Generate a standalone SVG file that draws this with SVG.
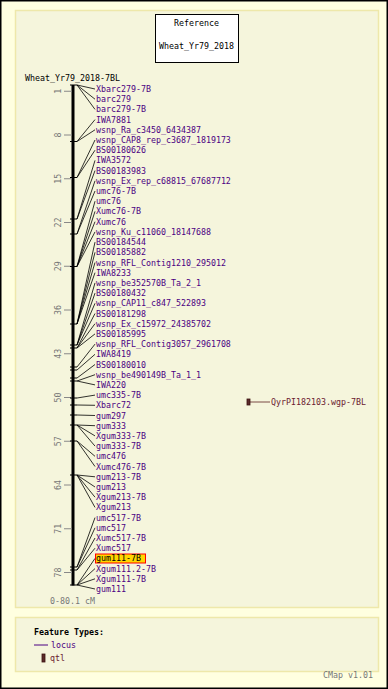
<svg xmlns="http://www.w3.org/2000/svg" width="388" height="689" viewBox="0 0 388 689">
<style>
text{font-family:"DejaVu Sans Mono","Liberation Mono",monospace;font-size:8.3px}
.lab{fill:#4b0082}
.blk{fill:#000}
.gry{fill:#777}
.qtl{fill:#6a2030}
.sc{stroke:#888;stroke-width:1}
.mk{stroke:#000;stroke-width:1}
.cn{stroke:#000;stroke-width:0.8;fill:none}
.panel{fill:#f5f5dc;stroke:#eee8aa;stroke-width:1.5}
</style>
<rect x="0.75" y="0.75" width="386.5" height="687.5" fill="#ffffe0" stroke="#000" stroke-width="1.5"/>
<rect class="panel" x="15.5" y="10.5" width="363" height="597"/>
<rect class="panel" x="15.5" y="617.5" width="363" height="54"/>
<g id="reference">
<rect x="155.5" y="14.5" width="83" height="48" fill="#fff" stroke="#000"/>
<text class="blk" x="196.5" y="26" text-anchor="middle">Reference</text>
<text class="blk" x="196.5" y="49" text-anchor="middle">Wheat_Yr79_2018</text>
</g>
<text class="blk" x="25" y="81">Wheat_Yr79_2018-7BL</text>
<g id="axis">
<line x1="73" y1="85" x2="73" y2="585.5" stroke="#000" stroke-width="3"/>
<g class="sc">
<line x1="64" y1="91.25" x2="72" y2="91.25"/><line x1="64" y1="135" x2="72" y2="135"/><line x1="64" y1="178.75" x2="72" y2="178.75"/><line x1="64" y1="222.5" x2="72" y2="222.5"/><line x1="64" y1="266.25" x2="72" y2="266.25"/><line x1="64" y1="310" x2="72" y2="310"/><line x1="64" y1="353.75" x2="72" y2="353.75"/><line x1="64" y1="397.5" x2="72" y2="397.5"/><line x1="64" y1="441.25" x2="72" y2="441.25"/><line x1="64" y1="485" x2="72" y2="485"/><line x1="64" y1="528.75" x2="72" y2="528.75"/><line x1="64" y1="572.5" x2="72" y2="572.5"/>
</g>
<g class="gry" text-anchor="middle">
<text transform="translate(58,91.25) rotate(-90)" y="3">1</text>
<text transform="translate(58,135) rotate(-90)" y="3">8</text>
<text transform="translate(58,178.75) rotate(-90)" y="3">15</text>
<text transform="translate(58,222.5) rotate(-90)" y="3">22</text>
<text transform="translate(58,266.25) rotate(-90)" y="3">29</text>
<text transform="translate(58,310) rotate(-90)" y="3">36</text>
<text transform="translate(58,353.75) rotate(-90)" y="3">43</text>
<text transform="translate(58,397.5) rotate(-90)" y="3">50</text>
<text transform="translate(58,441.25) rotate(-90)" y="3">57</text>
<text transform="translate(58,485) rotate(-90)" y="3">64</text>
<text transform="translate(58,528.75) rotate(-90)" y="3">71</text>
<text transform="translate(58,572.5) rotate(-90)" y="3">78</text>
</g>
<g class="mk">
<line x1="70" y1="85" x2="77" y2="85"/><line x1="70" y1="141.5" x2="77" y2="141.5"/><line x1="70" y1="177.5" x2="77" y2="177.5"/><line x1="70" y1="219" x2="77" y2="219"/><line x1="70" y1="234" x2="77" y2="234"/><line x1="70" y1="266.5" x2="77" y2="266.5"/><line x1="70" y1="324" x2="77" y2="324"/><line x1="70" y1="345" x2="77" y2="345"/><line x1="70" y1="348" x2="77" y2="348"/><line x1="70" y1="367" x2="77" y2="367"/><line x1="70" y1="370" x2="77" y2="370"/><line x1="70" y1="378" x2="77" y2="378"/><line x1="70" y1="381" x2="77" y2="381"/><line x1="70" y1="398" x2="77" y2="398"/><line x1="70" y1="405" x2="77" y2="405"/><line x1="70" y1="415" x2="77" y2="415"/><line x1="70" y1="425" x2="77" y2="425"/><line x1="70" y1="441" x2="77" y2="441"/><line x1="70" y1="475" x2="77" y2="475"/><line x1="70" y1="567" x2="77" y2="567"/><line x1="70" y1="570" x2="77" y2="570"/><line x1="70" y1="585" x2="77" y2="585"/>
</g>
<text class="gry" x="50" y="603.5">0-80.1 cM</text>
</g>
<g id="connectors" class="cn">
<line x1="77" y1="85" x2="95" y2="89"/><line x1="77" y1="85" x2="95" y2="99.2"/><line x1="77" y1="85" x2="95" y2="109.4"/>
<line x1="77" y1="141.5" x2="95" y2="119.6"/><line x1="77" y1="141.5" x2="95" y2="129.8"/>
<line x1="77" y1="177.5" x2="95" y2="140"/><line x1="77" y1="177.5" x2="95" y2="150.2"/>
<line x1="77" y1="219" x2="95" y2="160.4"/><line x1="77" y1="219" x2="95" y2="170.6"/>
<line x1="77" y1="234" x2="95" y2="180.8"/><line x1="77" y1="234" x2="95" y2="191"/>
<line x1="77" y1="266.5" x2="95" y2="201.2"/><line x1="77" y1="266.5" x2="95" y2="211.4"/><line x1="77" y1="266.5" x2="95" y2="221.7"/><line x1="77" y1="266.5" x2="95" y2="231.9"/>
<line x1="77" y1="324" x2="95" y2="242.1"/><line x1="77" y1="324" x2="95" y2="252.3"/><line x1="77" y1="324" x2="95" y2="262.5"/><line x1="77" y1="324" x2="95" y2="272.7"/>
<line x1="77" y1="345" x2="95" y2="282.9"/><line x1="77" y1="345" x2="95" y2="293.1"/><line x1="77" y1="345" x2="95" y2="303.3"/>
<line x1="77" y1="348" x2="95" y2="313.5"/><line x1="77" y1="348" x2="95" y2="323.7"/><line x1="77" y1="348" x2="95" y2="333.9"/>
<line x1="77" y1="367" x2="95" y2="344.1"/><line x1="77" y1="370" x2="95" y2="354.3"/><line x1="77" y1="378" x2="95" y2="364.5"/>
<line x1="77" y1="381" x2="95" y2="374.7"/><line x1="77" y1="381" x2="95" y2="384.9"/>
<line x1="77" y1="398" x2="95" y2="395.1"/><line x1="77" y1="405" x2="95" y2="405.3"/><line x1="77" y1="415" x2="95" y2="415.5"/>
<line x1="77" y1="425" x2="95" y2="425.7"/><line x1="77" y1="425" x2="95" y2="435.9"/><line x1="77" y1="425" x2="95" y2="446.1"/>
<line x1="77" y1="441" x2="95" y2="456.3"/><line x1="77" y1="441" x2="95" y2="466.5"/>
<line x1="77" y1="475" x2="95" y2="476.8"/><line x1="77" y1="475" x2="95" y2="487"/><line x1="77" y1="475" x2="95" y2="497.2"/><line x1="77" y1="475" x2="95" y2="507.4"/>
<line x1="77" y1="567" x2="95" y2="517.6"/><line x1="77" y1="567" x2="95" y2="527.8"/><line x1="77" y1="570" x2="95" y2="538"/><line x1="77" y1="570" x2="95" y2="548.2"/>
<line x1="77" y1="585" x2="95" y2="558.4"/><line x1="77" y1="585" x2="95" y2="568.6"/><line x1="77" y1="585" x2="95" y2="578.8"/><line x1="77" y1="585" x2="95" y2="589"/>
<line x1="250" y1="402" x2="270" y2="402" stroke="#5a2020"/>
</g>
<g class="lab">
<g id="m0"><text x="96" y="92">Xbarc279-7B</text></g>
<g id="m1"><text x="96" y="102.2">barc279</text></g>
<g id="m2"><text x="96" y="112.4">barc279-7B</text></g>
<g id="m3"><text x="96" y="122.6">IWA7881</text></g>
<g id="m4"><text x="96" y="132.8">wsnp_Ra_c3450_6434387</text></g>
<g id="m5"><text x="96" y="143">wsnp_CAP8_rep_c3687_1819173</text></g>
<g id="m6"><text x="96" y="153.2">BS00180626</text></g>
<g id="m7"><text x="96" y="163.4">IWA3572</text></g>
<g id="m8"><text x="96" y="173.6">BS00183983</text></g>
<g id="m9"><text x="96" y="183.8">wsnp_Ex_rep_c68815_67687712</text></g>
<g id="m10"><text x="96" y="194">umc76-7B</text></g>
<g id="m11"><text x="96" y="204.2">umc76</text></g>
<g id="m12"><text x="96" y="214.4">Xumc76-7B</text></g>
<g id="m13"><text x="96" y="224.7">Xumc76</text></g>
<g id="m14"><text x="96" y="234.9">wsnp_Ku_c11060_18147688</text></g>
<g id="m15"><text x="96" y="245.1">BS00184544</text></g>
<g id="m16"><text x="96" y="255.3">BS00185882</text></g>
<g id="m17"><text x="96" y="265.5">wsnp_RFL_Contig1210_295012</text></g>
<g id="m18"><text x="96" y="275.7">IWA8233</text></g>
<g id="m19"><text x="96" y="285.9">wsnp_be352570B_Ta_2_1</text></g>
<g id="m20"><text x="96" y="296.1">BS00180432</text></g>
<g id="m21"><text x="96" y="306.3">wsnp_CAP11_c847_522893</text></g>
<g id="m22"><text x="96" y="316.5">BS00181298</text></g>
<g id="m23"><text x="96" y="326.7">wsnp_Ex_c15972_24385702</text></g>
<g id="m24"><text x="96" y="336.9">BS00185995</text></g>
<g id="m25"><text x="96" y="347.1">wsnp_RFL_Contig3057_2961708</text></g>
<g id="m26"><text x="96" y="357.3">IWA8419</text></g>
<g id="m27"><text x="96" y="367.5">BS00180010</text></g>
<g id="m28"><text x="96" y="377.7">wsnp_be490149B_Ta_1_1</text></g>
<g id="m29"><text x="96" y="387.9">IWA220</text></g>
<g id="m30"><text x="96" y="398.1">umc335-7B</text></g>
<g id="m31"><text x="96" y="408.3">Xbarc72</text></g>
<g id="m32"><text x="96" y="418.5">gum297</text></g>
<g id="m33"><text x="96" y="428.7">gum333</text></g>
<g id="m34"><text x="96" y="438.9">Xgum333-7B</text></g>
<g id="m35"><text x="96" y="449.1">gum333-7B</text></g>
<g id="m36"><text x="96" y="459.3">umc476</text></g>
<g id="m37"><text x="96" y="469.5">Xumc476-7B</text></g>
<g id="m38"><text x="96" y="479.8">gum213-7B</text></g>
<g id="m39"><text x="96" y="490">gum213</text></g>
<g id="m40"><text x="96" y="500.2">Xgum213-7B</text></g>
<g id="m41"><text x="96" y="510.4">Xgum213</text></g>
<g id="m42"><text x="96" y="520.6">umc517-7B</text></g>
<g id="m43"><text x="96" y="530.8">umc517</text></g>
<g id="m44"><text x="96" y="541">Xumc517-7B</text></g>
<g id="m45"><text x="96" y="551.2">Xumc517</text></g>
<g id="m46"><rect x="95.5" y="554" width="50" height="9" fill="#ffd700" stroke="#f00"/><text x="96" y="561.4" class="blk">gum111-7B</text></g>
<g id="m47"><text x="96" y="571.6">Xgum111.2-7B</text></g>
<g id="m48"><text x="96" y="581.8">Xgum111-7B</text></g>
<g id="m49"><text x="96" y="592">gum111</text></g>
</g>
<g id="qtl1">
<rect x="247" y="399" width="3" height="6" fill="#5a2a2a" stroke="#3a1010" stroke-width="0.8"/>
<text class="qtl" x="271" y="405">QyrPI182103.wgp-7BL</text>
</g>
<g id="legend">
<text class="blk" x="34" y="635" font-weight="bold">Feature Types:</text>
<line x1="34" y1="645" x2="48" y2="645" stroke="#4b0082"/>
<text class="lab" x="51" y="648">locus</text>
<rect x="42" y="654" width="3" height="8" fill="#5a2a2a" stroke="#3a1010" stroke-width="0.8"/>
<text class="qtl" x="50" y="661">qtl</text>
</g>
<text class="gry" x="323" y="678">CMap v1.01</text>
</svg>
